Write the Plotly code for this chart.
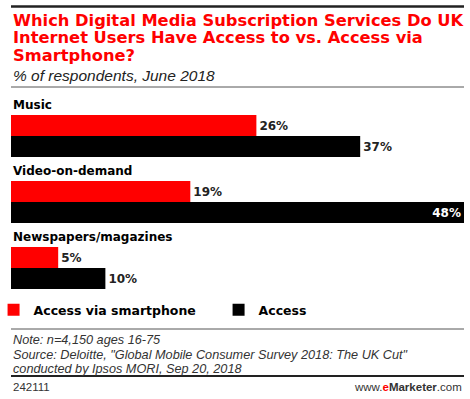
import plotly.graph_objects as go

categories = ["Music", "Video-on-demand", "Newspapers/magazines"]
smartphone = [26, 19, 5]
access = [37, 48, 10]
series_names = ["Access via smartphone", "Access"]

W, H = 470, 399
PL, PR = 6, 464
PT, PB = 103, 301  # plot area top/bottom in px
def py(p):
    return (PB - p) / (PB - PT)
def px(p):
    return (p - PL) / (PR - PL)

BOLD = "DejaVu Sans"
REG = "Liberation Sans"
fig = go.Figure()
fig.add_trace(go.Bar(
    y=categories, x=smartphone, orientation="h", name=series_names[0],
    marker=dict(color="#ff0000", line=dict(width=0)),
    text=[f"{v}%" for v in smartphone], textposition="outside",
    textfont=dict(family=BOLD, size=12, color="#222222", weight="bold"),
    cliponaxis=False, legend="legend",
))
fig.add_trace(go.Bar(
    y=categories, x=access, orientation="h", name=series_names[1],
    marker=dict(color="#000000", line=dict(width=0)),
    text=[f"{v}%" for v in access],
    textposition=["inside" if v == max(access) else "outside" for v in access],
    insidetextanchor="end",
    textfont=dict(family=BOLD, size=12, color=["#ffffff" if v == max(access) else "#222222" for v in access], weight="bold"),
    cliponaxis=False, legend="legend2",
))

ann = []
for c in categories:
    ann.append(dict(x=0, xref="paper", y=c, yref="y", yshift=31, text=f"<b>{c}</b>",
                    showarrow=False, xanchor="left", yanchor="middle",
                    font=dict(family=BOLD, size=12, color="#000")))
title_lines = ["Which Digital Media Subscription Services Do UK",
               "Internet Users Have Access to vs. Access via",
               "Smartphone?"]
for i, t in enumerate(title_lines):
    ann.append(dict(x=0, xref="paper", y=py(20.5 + i * 17.3), yref="paper", text=f"<b>{t}</b>",
                    showarrow=False, xanchor="left", yanchor="middle",
                    font=dict(family=BOLD, size=16.3, color="#ff0000")))
ann.append(dict(x=0, xref="paper", y=py(75), yref="paper", text="<i>% of respondents, June 2018</i>",
                showarrow=False, xanchor="left", yanchor="middle",
                font=dict(family=REG, size=15.5, color="#222")))
notes = ["Note: n=4,150 ages 16-75",
         "Source: Deloitte, \"Global Mobile Consumer Survey 2018: The UK Cut\"",
         "conducted by Ipsos MORI, Sep 20, 2018"]
for i, t in enumerate(notes):
    ann.append(dict(x=0, xref="paper", y=py(340 + i * 14.5), yref="paper", text=f"<i>{t}</i>",
                    showarrow=False, xanchor="left", yanchor="middle",
                    font=dict(family=REG, size=12.7, color="#333")))
ann.append(dict(x=0, xref="paper", y=py(387), yref="paper", text="242111",
                showarrow=False, xanchor="left", yanchor="middle",
                font=dict(family=REG, size=11.5, color="#333")))
ann.append(dict(x=1, xref="paper", y=py(387), yref="paper",
                text="www.<b><span style='color:#ff0000'>e</span>Marketer</b>.com",
                showarrow=False, xanchor="right", yanchor="middle",
                font=dict(family=REG, size=11.5, color="#333")))

shapes = [
    dict(type="line", xref="paper", yref="paper", x0=0, x1=1, y0=py(6.5), y1=py(6.5),
         line=dict(color="#222", width=2.5)),
    dict(type="line", xref="paper", yref="paper", x0=0, x1=1, y0=py(87), y1=py(87),
         line=dict(color="#555", width=1)),
    dict(type="line", xref="paper", yref="paper", x0=0, x1=1, y0=py(329), y1=py(329),
         line=dict(color="#555", width=1)),
    dict(type="line", xref="paper", yref="paper", x0=0, x1=1, y0=py(376), y1=py(376),
         line=dict(color="#222", width=2)),
]

leg_common = dict(orientation="h", xref="paper", yref="paper", y=py(310),
                  xanchor="left", yanchor="middle", indentation=-12,
                  itemclick=False, itemdoubleclick=False,
                  font=dict(family=BOLD, size=12.5, color="#000", weight="bold"),
                  bgcolor="rgba(0,0,0,0)", borderwidth=0)

fig.update_layout(
    width=W, height=H,
    margin=dict(l=PL, r=W - PR, t=PT, b=H - PB, pad=0),
    paper_bgcolor="white", plot_bgcolor="white",
    barmode="group", bargap=24 / 66, bargroupgap=0,
    xaxis=dict(range=[0, 48], visible=False, fixedrange=True),
    yaxis=dict(categoryorder="array", categoryarray=categories, range=[2.5, -0.5],
               visible=False, fixedrange=True),
    showlegend=True,
    legend=dict(x=px(0.5), **leg_common),
    legend2=dict(x=px(228), **leg_common),
    annotations=ann, shapes=shapes,
)
fig.write_html("out.html", config={"displayModeBar": False},
               post_script="document.body.style.margin='0px';")
